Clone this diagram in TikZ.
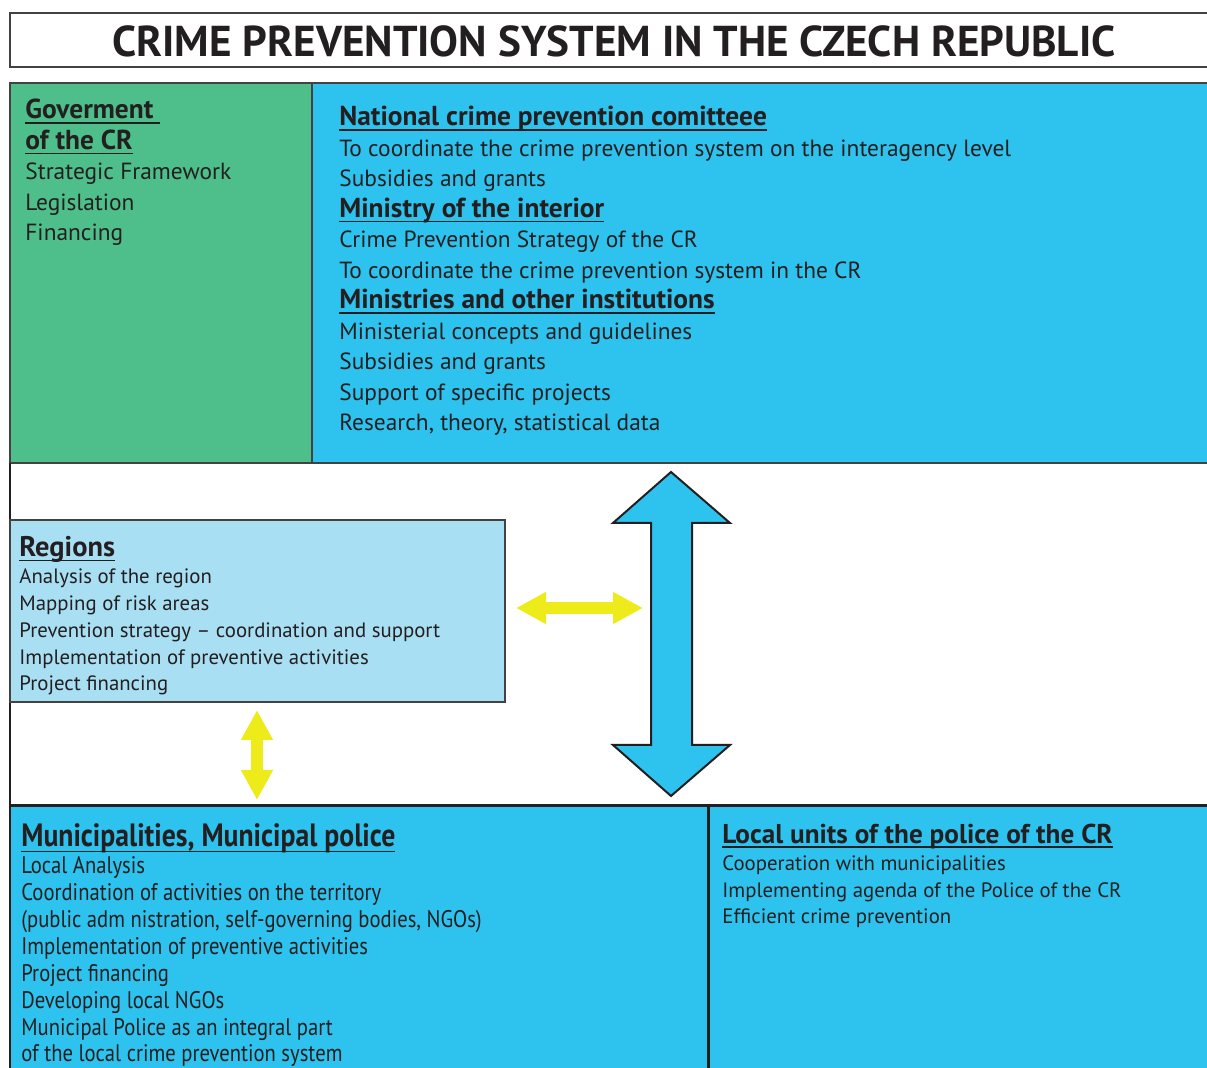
\documentclass[tikz,border=0pt]{standalone}
\usepackage{fontspec}
\setmainfont{PT Sans}
\newfontfamily\condfont[FakeStretch=0.86]{PT Sans}
\usetikzlibrary{arrows.meta}
\definecolor{ink}{HTML}{231F20}
\definecolor{govgreen}{HTML}{4EBE8B}
\definecolor{skyblue}{HTML}{2EC3EE}
\definecolor{paleblue}{HTML}{A9DFF3}
\definecolor{arrowyellow}{HTML}{EEEB1B}
\newcommand{\myul}[1]{\setbox0\hbox{#1}\rlap{\rule[-0.17em]{\wd0}{0.055em}}\box0}
\newcommand{\tophd}[1]{{\fontsize{13.7}{15.25}\selectfont\textbf{\myul{#1}}}}
\tikzset{
  panel/.style={draw=ink!85, line width=0.7pt, anchor=north west, inner sep=0pt, outer sep=0pt},
  txt/.style={anchor=base west, align=left, inner sep=0pt, text=ink},
  bigtxt/.style={txt, font=\fontsize{11.7}{15.25}\selectfont},
  smalltxt/.style={txt, font=\fontsize{10.4}{13.45}\selectfont},
  condtxt/.style={txt, font=\condfont\fontsize{12.0}{13.45}\selectfont},
  yarrow/.style={draw=arrowyellow, line width=6pt, {Triangle[width=15pt,length=15pt]}-{Triangle[width=15pt,length=15pt]}},
}
\begin{document}
\begin{tikzpicture}[x=0.5pt,y=-0.5pt]
\useasboundingbox (0,0) rectangle (1207,1068);
\clip (0,0) rectangle (1207,1068);
\fill[white] (0,0) rectangle (1207,1068);
% title
\node[panel, minimum width=1215*0.5pt, minimum height=54*0.5pt] (titlebox) at (10,13) {};
\node[text=ink, font=\fontsize{21.6}{24}\selectfont\bfseries] (title) at (614,41) {CRIME PREVENTION SYSTEM IN THE CZECH REPUBLIC};
% top panels
\node[panel, fill=govgreen, minimum width=302*0.5pt, minimum height=380*0.5pt] (gov) at (10,83) {};
\node[panel, fill=skyblue, minimum width=903*0.5pt, minimum height=380*0.5pt] (ncp) at (312,83) {};
% left frame line
\draw[ink, line width=0.8pt] (gov.south west) -- (10,806);
% regions
\node[panel, fill=paleblue, line width=1pt, minimum width=495*0.5pt, minimum height=182*0.5pt] (regions) at (10,520) {};
% bottom panels
\node[panel, fill=skyblue, draw=none, minimum width=698*0.5pt, minimum height=280*0.5pt] (muni) at (10,806) {};
\node[panel, fill=skyblue, draw=none, minimum width=507*0.5pt, minimum height=280*0.5pt] (police) at (708,806) {};
\draw[ink, line width=1.5pt] (muni.north west) -- (1215,806);
\draw[ink, line width=1.5pt] (police.north west) -- (police.south west);
\draw[ink, line width=0.8pt] (muni.north west) -- (muni.south west);
% big double arrow
\coordinate (bigtop) at (671,472);
\coordinate (bigbot) at (671,796);
\filldraw[fill=skyblue, draw=ink, line width=1pt, line join=miter]
  (bigtop) -- (730,523) -- (692,523) -- (692,745) -- (730,745) -- (bigbot)
  -- (613,745) -- (651,745) -- (651,523) -- (613,523) -- cycle;
% yellow arrows
\coordinate (yl) at (516,608);
\coordinate (yr) at (643,608);
\draw[yarrow] (yl) -- (yr);
\coordinate (yt) at (257,710);
\coordinate (yb) at (257,800);
\draw[yarrow] (yt) -- (yb);
% texts (anchored at the baseline of the last line)
\node[bigtxt] (govtxt) at (25,241) {\tophd{Goverment\ }\\\tophd{of the CR}\\Strategic Framework\\Legislation\\Financing};
\node[bigtxt] (ncptxt) at (339,431) {\tophd{National crime prevention comitteee}\\
To coordinate the crime prevention system on the interagency level\\
Subsidies and grants\\
\tophd{Ministry of the interior}\\
Crime Prevention Strategy of the CR\\
To coordinate the crime prevention system in the CR\\
\tophd{Ministries and other institutions}\\
Ministerial concepts and guidelines\\
Subsidies and grants\\
Support of specific projects\\
Research, theory, statistical data};
\node[smalltxt] (regtxt) at (19,691) {{\fontsize{14.2}{13.45}\selectfont\textbf{\myul{Regions}}}\\
Analysis of the region\\
Mapping of risk areas\\
Prevention strategy -- coordination and support\\
Implementation of preventive activities\\
Project financing};
\node[condtxt] (munitxt) at (21,1062) {{\fontsize{16.1}{13.45}\selectfont\textbf{\myul{Municipalities, Municipal police}}}\\
Local Analysis\\
Coordination of activities on the territory\\
(public adm nistration, self-governing bodies, NGOs)\\
Implementation of preventive activities\\
Project financing\\
Developing local NGOs\\
Municipal Police as an integral part\\
of the local crime prevention system};
\node[smalltxt] (poltxt) at (722,924) {{\fontsize{13.6}{13.45}\selectfont\textbf{\myul{Local units of the police of the CR}}}\\
Cooperation with municipalities\\
Implementing agenda of the Police of the CR\\
Efficient crime prevention};
\end{tikzpicture}
\end{document}
